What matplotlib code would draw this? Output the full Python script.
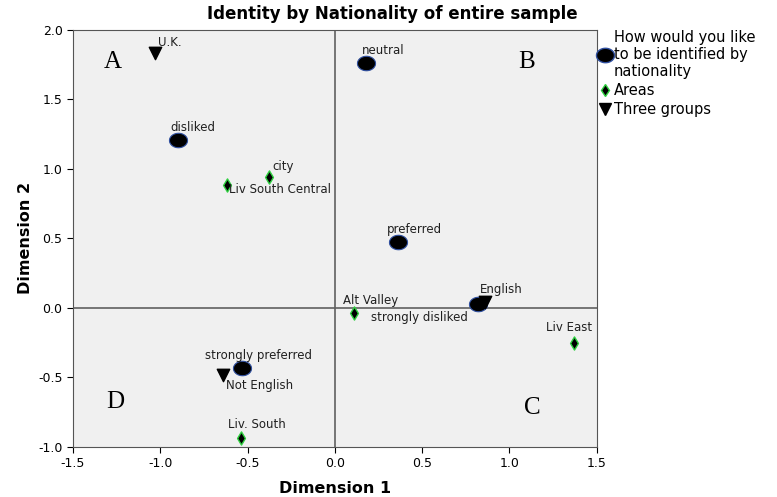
import numpy as np
import matplotlib.pyplot as plt
from matplotlib.lines import Line2D

plt.rcParams['axes.unicode_minus'] = False

# category points: "How would you like to be identified by nationality"
cat_names = ['neutral', 'disliked', 'preferred', 'strongly disliked', 'strongly preferred']
cat_x = [0.18, -0.90, 0.36, 0.82, -0.53]
cat_y = [1.76, 1.21, 0.47, 0.03, -0.43]

# areas
area_names = ['city', 'Liv South Central', 'Alt Valley', 'Liv East', 'Liv. South']
area_x = [-0.38, -0.62, 0.11, 1.37, -0.54]
area_y = [0.94, 0.88, -0.04, -0.25, -0.94]

# three groups
grp_names = ['U.K.', 'English', 'Not English']
grp_x = [-1.03, 0.86, -0.64]
grp_y = [1.83, 0.04, -0.48]

quad_names = ['A', 'B', 'C', 'D']
quad_x = [-1.27, 1.10, 1.13, -1.26]
quad_y = [1.77, 1.77, -0.72, -0.68]

# slightly wide ellipse marker, like the SPSS output
t = np.linspace(0, 2 * np.pi, 40)
ellipse = np.column_stack([1.25 * np.cos(t), np.sin(t)])

fig = plt.figure(figsize=(7.77, 4.97), dpi=100)
ax = fig.add_axes([0.094, 0.101, 0.674, 0.839])
ax.set_facecolor('#f0f0f0')

ax.axhline(0, color='#606060', lw=1.2, zorder=1)
ax.axvline(0, color='#606060', lw=1.2, zorder=1)

ax.scatter(cat_x, cat_y, s=170, marker=ellipse, color='black', edgecolors='#3050a0', linewidths=0.8, zorder=3)
ax.scatter(area_x, area_y, s=45, marker='d', color='black', edgecolors='#2fd040', linewidths=1.0, zorder=3)
ax.scatter(grp_x, grp_y, s=80, marker='v', color='black', zorder=3)

lab = dict(fontsize=8.5, color='#202020', zorder=4)
# label offsets in points
cat_off = {'neutral': (-3, 9, 'left'), 'disliked': (-5, 9, 'left'),
           'preferred': (-8, 9, 'left'), 'strongly disliked': (-7, -10, 'right'),
           'strongly preferred': (-27, 9, 'left')}
for n, x, y in zip(cat_names, cat_x, cat_y):
    dx, dy, ha = cat_off[n]
    ax.annotate(n, (x, y), xytext=(dx, dy), textcoords='offset points', ha=ha, va='center', **lab)
area_off = {'city': (3, 8, 'left'), 'Liv South Central': (2, -3, 'left'),
            'Alt Valley': (-8, 9, 'left'), 'Liv East': (-20, 11, 'left'),
            'Liv. South': (-9, 10, 'left')}
for n, x, y in zip(area_names, area_x, area_y):
    dx, dy, ha = area_off[n]
    ax.annotate(n, (x, y), xytext=(dx, dy), textcoords='offset points', ha=ha, va='center', **lab)
grp_off = {'U.K.': (2, 8, 'left'), 'English': (-4, 9, 'left'), 'Not English': (2, -8, 'left')}
for n, x, y in zip(grp_names, grp_x, grp_y):
    dx, dy, ha = grp_off[n]
    ax.annotate(n, (x, y), xytext=(dx, dy), textcoords='offset points', ha=ha, va='center', **lab)

for n, x, y in zip(quad_names, quad_x, quad_y):
    ax.text(x, y, n, fontsize=18, family='Liberation Serif', ha='center', va='center')

ax.set_xlim(-1.5, 1.5)
ax.set_ylim(-1.0, 2.0)
ax.set_xticks([-1.5, -1.0, -0.5, 0.0, 0.5, 1.0, 1.5])
ax.set_yticks([-1.0, -0.5, 0.0, 0.5, 1.0, 1.5, 2.0])
ax.tick_params(labelsize=9, direction='out', length=4)
for s in ax.spines.values():
    s.set_color('#555555')
ax.set_xlabel('Dimension 1', fontsize=11.5, fontweight='bold', labelpad=8)
ax.set_ylabel('Dimension 2', fontsize=11.5, fontweight='bold')
fig.text(0.505, 0.972, 'Identity by Nationality of entire sample', fontsize=12, fontweight='bold',
         ha='center', va='center')

handles = [
    Line2D([], [], marker=ellipse, ls='', color='black', markeredgecolor='#3050a0', markersize=13),
    Line2D([], [], marker='d', ls='', color='black', markeredgecolor='#2fd040', markersize=6),
    Line2D([], [], marker='v', ls='', color='black', markersize=9),
]
labels = ['How would you like\nto be identified by\nnationality', 'Areas', 'Three groups']
fig.legend(handles, labels, loc='upper left', bbox_to_anchor=(0.762, 0.952), frameon=False,
           fontsize=10.5, handletextpad=0.1, handlelength=1.0, labelspacing=0.25, borderaxespad=0)

fig.savefig('out.png', dpi=100)
